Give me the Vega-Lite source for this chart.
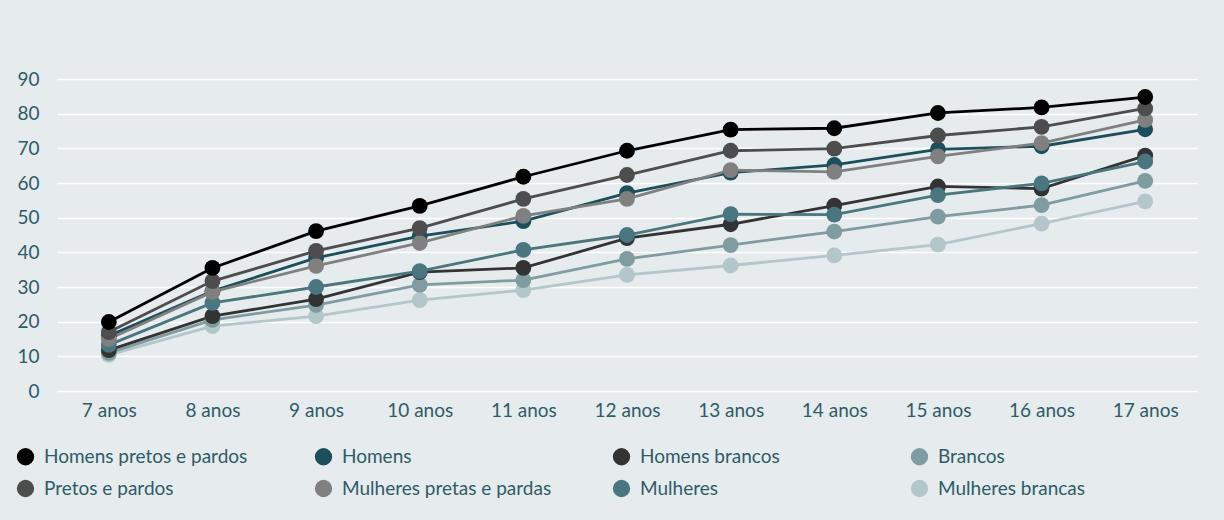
{
 "$schema": "https://vega.github.io/schema/vega-lite/v6.json",
 "width": 1224,
 "height": 520,
 "autosize": {"type": "fit", "contains": "padding"},
 "padding": {"left": 16, "top": 70, "right": 27, "bottom": 100},
 "background": "#e6ebee",
 "config": {"view": {"stroke": null}, "font": "Lato"},
 "data": {"values": [
  {"serie":"Mulheres brancas","idade":"7 anos","valor":10.4},{"serie":"Mulheres brancas","idade":"8 anos","valor":18.7},{"serie":"Mulheres brancas","idade":"9 anos","valor":21.6},{"serie":"Mulheres brancas","idade":"10 anos","valor":26.2},{"serie":"Mulheres brancas","idade":"11 anos","valor":29.1},{"serie":"Mulheres brancas","idade":"12 anos","valor":33.5},{"serie":"Mulheres brancas","idade":"13 anos","valor":36.2},{"serie":"Mulheres brancas","idade":"14 anos","valor":39.1},{"serie":"Mulheres brancas","idade":"15 anos","valor":42.2},{"serie":"Mulheres brancas","idade":"16 anos","valor":48.3},{"serie":"Mulheres brancas","idade":"17 anos","valor":54.7},
  {"serie":"Brancos","idade":"7 anos","valor":11.0},{"serie":"Brancos","idade":"8 anos","valor":20.5},{"serie":"Brancos","idade":"9 anos","valor":24.8},{"serie":"Brancos","idade":"10 anos","valor":30.6},{"serie":"Brancos","idade":"11 anos","valor":32.0},{"serie":"Brancos","idade":"12 anos","valor":38.1},{"serie":"Brancos","idade":"13 anos","valor":42.1},{"serie":"Brancos","idade":"14 anos","valor":46.0},{"serie":"Brancos","idade":"15 anos","valor":50.3},{"serie":"Brancos","idade":"16 anos","valor":53.6},{"serie":"Brancos","idade":"17 anos","valor":60.6},
  {"serie":"Homens brancos","idade":"7 anos","valor":11.8},{"serie":"Homens brancos","idade":"8 anos","valor":21.6},{"serie":"Homens brancos","idade":"9 anos","valor":26.5},{"serie":"Homens brancos","idade":"10 anos","valor":34.3},{"serie":"Homens brancos","idade":"11 anos","valor":35.5},{"serie":"Homens brancos","idade":"12 anos","valor":44.1},{"serie":"Homens brancos","idade":"13 anos","valor":48.1},{"serie":"Homens brancos","idade":"14 anos","valor":53.5},{"serie":"Homens brancos","idade":"15 anos","valor":59.0},{"serie":"Homens brancos","idade":"16 anos","valor":58.4},{"serie":"Homens brancos","idade":"17 anos","valor":67.9},
  {"serie":"Mulheres","idade":"7 anos","valor":13.3},{"serie":"Mulheres","idade":"8 anos","valor":25.4},{"serie":"Mulheres","idade":"9 anos","valor":30.0},{"serie":"Mulheres","idade":"10 anos","valor":34.6},{"serie":"Mulheres","idade":"11 anos","valor":40.7},{"serie":"Mulheres","idade":"12 anos","valor":45.0},{"serie":"Mulheres","idade":"13 anos","valor":51.0},{"serie":"Mulheres","idade":"14 anos","valor":50.9},{"serie":"Mulheres","idade":"15 anos","valor":56.5},{"serie":"Mulheres","idade":"16 anos","valor":59.9},{"serie":"Mulheres","idade":"17 anos","valor":66.2},
  {"serie":"Homens","idade":"7 anos","valor":15.9},{"serie":"Homens","idade":"8 anos","valor":28.8},{"serie":"Homens","idade":"9 anos","valor":38.4},{"serie":"Homens","idade":"10 anos","valor":44.7},{"serie":"Homens","idade":"11 anos","valor":49.0},{"serie":"Homens","idade":"12 anos","valor":57.1},{"serie":"Homens","idade":"13 anos","valor":63.0},{"serie":"Homens","idade":"14 anos","valor":65.2},{"serie":"Homens","idade":"15 anos","valor":69.7},{"serie":"Homens","idade":"16 anos","valor":70.6},{"serie":"Homens","idade":"17 anos","valor":75.5},
  {"serie":"Mulheres pretas e pardas","idade":"7 anos","valor":15.0},{"serie":"Mulheres pretas e pardas","idade":"8 anos","valor":28.6},{"serie":"Mulheres pretas e pardas","idade":"9 anos","valor":36.1},{"serie":"Mulheres pretas e pardas","idade":"10 anos","valor":42.7},{"serie":"Mulheres pretas e pardas","idade":"11 anos","valor":50.5},{"serie":"Mulheres pretas e pardas","idade":"12 anos","valor":55.4},{"serie":"Mulheres pretas e pardas","idade":"13 anos","valor":63.7},{"serie":"Mulheres pretas e pardas","idade":"14 anos","valor":63.2},{"serie":"Mulheres pretas e pardas","idade":"15 anos","valor":67.7},{"serie":"Mulheres pretas e pardas","idade":"16 anos","valor":71.5},{"serie":"Mulheres pretas e pardas","idade":"17 anos","valor":78.2},
  {"serie":"Pretos e pardos","idade":"7 anos","valor":17.0},{"serie":"Pretos e pardos","idade":"8 anos","valor":31.7},{"serie":"Pretos e pardos","idade":"9 anos","valor":40.4},{"serie":"Pretos e pardos","idade":"10 anos","valor":47.0},{"serie":"Pretos e pardos","idade":"11 anos","valor":55.4},{"serie":"Pretos e pardos","idade":"12 anos","valor":62.3},{"serie":"Pretos e pardos","idade":"13 anos","valor":69.3},{"serie":"Pretos e pardos","idade":"14 anos","valor":69.9},{"serie":"Pretos e pardos","idade":"15 anos","valor":73.7},{"serie":"Pretos e pardos","idade":"16 anos","valor":76.2},{"serie":"Pretos e pardos","idade":"17 anos","valor":81.5},
  {"serie":"Homens pretos e pardos","idade":"7 anos","valor":19.9},{"serie":"Homens pretos e pardos","idade":"8 anos","valor":35.5},{"serie":"Homens pretos e pardos","idade":"9 anos","valor":46.1},{"serie":"Homens pretos e pardos","idade":"10 anos","valor":53.4},{"serie":"Homens pretos e pardos","idade":"11 anos","valor":61.8},{"serie":"Homens pretos e pardos","idade":"12 anos","valor":69.3},{"serie":"Homens pretos e pardos","idade":"13 anos","valor":75.4},{"serie":"Homens pretos e pardos","idade":"14 anos","valor":75.8},{"serie":"Homens pretos e pardos","idade":"15 anos","valor":80.2},{"serie":"Homens pretos e pardos","idade":"16 anos","valor":81.8},{"serie":"Homens pretos e pardos","idade":"17 anos","valor":84.8}
 ]},
 "encoding": {
  "x": {"field": "idade", "type": "ordinal",
        "sort": ["7 anos","8 anos","9 anos","10 anos","11 anos","12 anos","13 anos","14 anos","15 anos","16 anos","17 anos"],
        "scale": {"type": "point", "padding": 0.5},
        "axis": {"title": null, "labelAngle": 0, "domain": false, "ticks": false, "grid": false, "labelFontSize": 19, "labelColor": "#2e5c66", "labelPadding": 10}},
  "y": {"field": "valor", "type": "quantitative", "scale": {"domain": [0, 90]},
        "axis": {"title": null, "values": [0,10,20,30,40,50,60,70,80,90], "domain": false, "ticks": false, "gridColor": "#ffffff", "gridWidth": 1.5, "labelFontSize": 19, "labelColor": "#2e5c66", "labelPadding": 18}},
  "color": {"field": "serie", "type": "nominal",
        "scale": {"domain": ["Homens pretos e pardos","Pretos e pardos","Homens","Mulheres pretas e pardas","Homens brancos","Mulheres","Brancos","Mulheres brancas"],
                  "range": ["#000000","#4d4d4d","#1b4f5c","#808080","#333333","#4a7680","#7f9ca1","#b3c6c9"]},
        "legend": {"title": null, "orient": "none", "legendX": -41, "legendY": 368, "columns": 4, "gridAlign": "all", "columnPadding": 60, "rowPadding": 12,
                   "symbolType": "circle", "symbolSize": 300, "symbolStrokeWidth": 0, "symbolOpacity": 1, "labelOffset": 9, "labelFontSize": 19, "labelColor": "#2e5c66", "labelLimit": 400,
                   "encode": {"symbols": {"update": {"fill": {"scale": "color", "field": "value"}, "opacity": {"value": 1}}}}}}
 },
 "layer": [
  {"mark": {"type": "line", "strokeWidth": 2.8}},
  {"mark": {"type": "circle", "size": 250, "opacity": 1}}
 ]
}
